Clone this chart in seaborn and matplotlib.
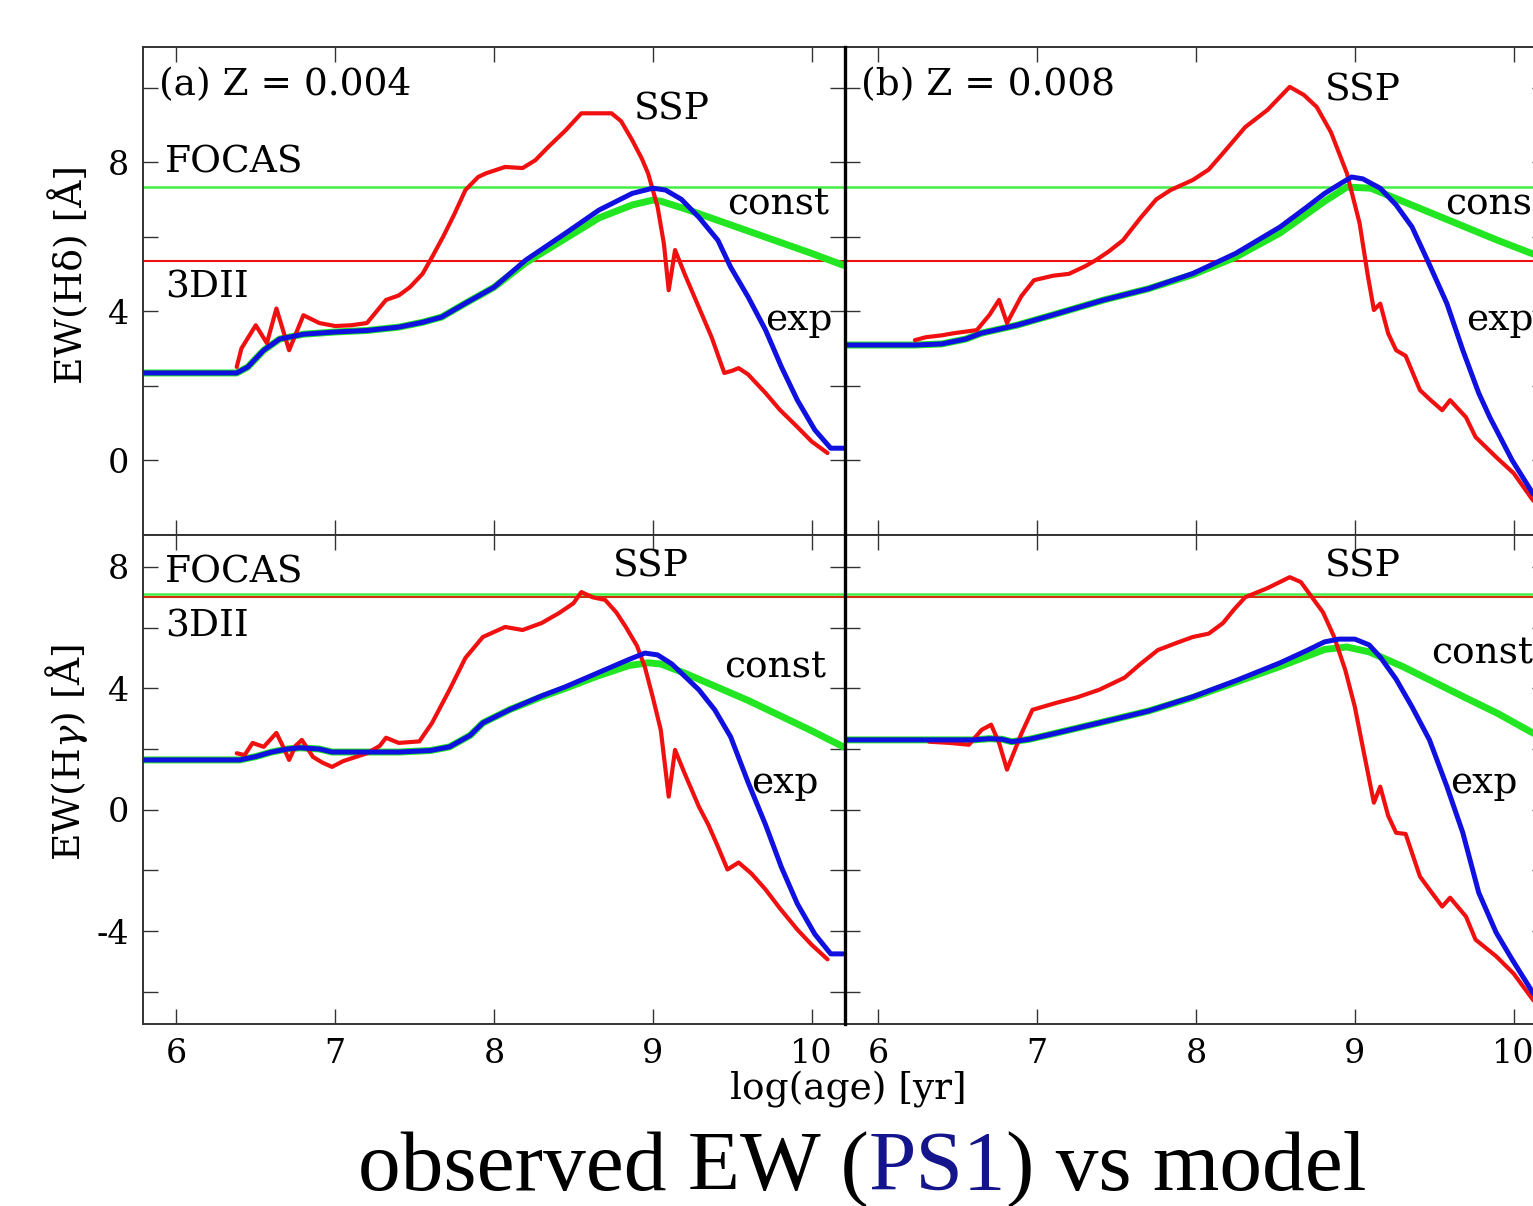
import numpy as np
import pandas as pd
import matplotlib
matplotlib.use("Agg")
import matplotlib.pyplot as plt
import seaborn as sns

# ---- data ----
# (a) Z = 0.004, EW(Hdelta)
a_hd_exp_x = [5.8, 6.38, 6.45, 6.55, 6.65, 6.8, 7.0, 7.2, 7.4, 7.55, 7.67, 7.82, 8.0, 8.2, 8.45, 8.66, 8.87, 9.0, 9.08, 9.18,
              9.29, 9.41, 9.49, 9.6, 9.71, 9.81, 9.91, 10.02, 10.12, 10.2]
a_hd_exp_y = [2.34, 2.34, 2.5, 2.95, 3.25, 3.38, 3.44, 3.48, 3.57, 3.7, 3.84, 4.21, 4.64, 5.37, 6.09, 6.71, 7.16, 7.3, 7.25, 7.0,
              6.52, 5.9, 5.18, 4.38, 3.49, 2.5, 1.61, 0.81, 0.32, 0.32]
a_hd_const_x = [5.8, 6.38, 6.45, 6.55, 6.65, 6.8, 7.0, 7.2, 7.4, 7.55, 7.67, 7.82, 8.0, 8.2, 8.45, 8.66, 8.87, 9.0, 9.05, 9.2,
                9.4, 9.6, 9.8, 10.0, 10.2]
a_hd_const_y = [2.34, 2.34, 2.5, 2.95, 3.25, 3.38, 3.44, 3.48, 3.57, 3.7, 3.84, 4.21, 4.64, 5.3, 5.95, 6.5, 6.85, 6.98, 6.95, 6.75,
                6.45, 6.15, 5.85, 5.55, 5.23]
a_hd_ssp_x = [6.38, 6.41, 6.5, 6.57, 6.63, 6.71, 6.8, 6.9, 7.0, 7.1, 7.2, 7.32, 7.4, 7.47, 7.55, 7.61, 7.68, 7.75, 7.82, 7.9,
              7.95, 8.07, 8.18, 8.26, 8.34, 8.45, 8.55, 8.62, 8.74, 8.8, 8.87, 8.93, 8.97, 9.03, 9.07, 9.1, 9.14, 9.2,
              9.29, 9.37, 9.45, 9.5, 9.54, 9.6, 9.71, 9.8, 9.91, 10.0, 10.1]
a_hd_ssp_y = [2.5, 3.0, 3.62, 3.14, 4.07, 2.95, 3.89, 3.68, 3.6, 3.62, 3.68, 4.3, 4.42, 4.64, 5.0, 5.45, 6.0, 6.6, 7.25, 7.6,
              7.7, 7.87, 7.84, 8.05, 8.4, 8.85, 9.31, 9.31, 9.31, 9.1, 8.59, 8.1, 7.7, 6.8, 5.8, 4.56, 5.64, 5.0,
              4.1, 3.3, 2.34, 2.4, 2.47, 2.3, 1.8, 1.35, 0.89, 0.5, 0.19]

# (a) Z = 0.004, EW(Hgamma)
a_hg_exp_x = [5.8, 6.4, 6.5, 6.6, 6.7, 6.78, 6.9, 6.98, 7.2, 7.4, 7.6, 7.72, 7.85, 7.93, 8.1, 8.3, 8.45, 8.65, 8.85, 8.95,
              9.03, 9.12, 9.2, 9.29, 9.39, 9.49, 9.6, 9.71, 9.81, 9.91, 10.02, 10.12, 10.2]
a_hg_exp_y = [1.64, 1.64, 1.75, 1.9, 2.0, 2.04, 2.0, 1.9, 1.9, 1.9, 1.95, 2.07, 2.45, 2.86, 3.3, 3.75, 4.05, 4.5, 4.95, 5.16,
              5.1, 4.8, 4.4, 3.95, 3.29, 2.4, 0.9, -0.5, -1.9, -3.1, -4.1, -4.75, -4.75]
a_hg_const_x = [5.8, 6.4, 6.5, 6.6, 6.7, 6.78, 6.9, 6.98, 7.2, 7.4, 7.6, 7.72, 7.85, 7.93, 8.1, 8.3, 8.45, 8.65, 8.85, 8.97,
                9.05, 9.2, 9.4, 9.6, 9.8, 10.0, 10.2]
a_hg_const_y = [1.64, 1.64, 1.75, 1.9, 2.0, 2.04, 2.0, 1.9, 1.9, 1.9, 1.95, 2.07, 2.45, 2.86, 3.3, 3.72, 4.0, 4.4, 4.75, 4.84,
                4.8, 4.5, 4.05, 3.6, 3.1, 2.6, 2.07]
a_hg_ssp_x = [6.38, 6.43, 6.48, 6.55, 6.63, 6.67, 6.71, 6.75, 6.79, 6.86, 6.92, 6.98, 7.05, 7.2, 7.28, 7.32, 7.4, 7.53, 7.61,
              7.72, 7.82, 7.93, 8.07, 8.18, 8.3, 8.41, 8.5, 8.55, 8.62, 8.7, 8.77, 8.83, 8.9, 8.95, 9.0, 9.05, 9.1,
              9.14, 9.2, 9.29, 9.35, 9.41, 9.47, 9.54, 9.62, 9.71, 9.8, 9.91, 10.0, 10.1]
a_hg_ssp_y = [1.86, 1.8, 2.2, 2.07, 2.53, 2.1, 1.64, 2.1, 2.3, 1.74, 1.55, 1.41, 1.6, 1.86, 2.1, 2.37, 2.2, 2.25, 2.86,
              3.95, 5.0, 5.69, 6.02, 5.92, 6.15, 6.48, 6.8, 7.17, 7.0, 6.91, 6.5, 6.02, 5.4, 4.7, 3.7, 2.63, 0.43,
              1.97, 1.2, 0.1, -0.5, -1.22, -1.97, -1.74, -2.1, -2.63, -3.25, -3.95, -4.45, -4.93]

# (b) Z = 0.008, EW(Hdelta)
b_hd_exp_x = [5.8, 6.23, 6.4, 6.55, 6.65, 6.87, 7.1, 7.42, 7.7, 7.98, 8.25, 8.53, 8.7, 8.81, 8.92, 8.98, 9.05, 9.16, 9.26,
              9.36, 9.46, 9.58, 9.68, 9.78, 9.85, 9.99, 10.12, 10.2]
b_hd_exp_y = [3.09, 3.09, 3.12, 3.25, 3.41, 3.62, 3.9, 4.3, 4.6, 5.01, 5.55, 6.26, 6.8, 7.16, 7.45, 7.6, 7.55, 7.3, 6.85,
              6.26, 5.34, 4.2, 2.95, 1.8, 1.15, 0.0, -0.89, -1.2]
b_hd_const_x = [5.8, 6.23, 6.4, 6.55, 6.65, 6.87, 7.1, 7.42, 7.7, 7.98, 8.25, 8.53, 8.81, 8.95, 9.1, 9.3, 9.5, 9.7, 9.9,
                10.1, 10.2]
b_hd_const_y = [3.09, 3.09, 3.12, 3.25, 3.41, 3.62, 3.9, 4.3, 4.6, 4.98, 5.45, 6.1, 6.95, 7.33, 7.3, 6.95, 6.6, 6.25, 5.9,
                5.57, 5.42]
b_hd_ssp_x = [6.23, 6.3, 6.4, 6.48, 6.55, 6.62, 6.7, 6.76, 6.81, 6.9, 6.98, 7.1, 7.2, 7.3, 7.37, 7.45, 7.54, 7.65, 7.75,
              7.84, 7.98, 8.08, 8.17, 8.31, 8.45, 8.59, 8.68, 8.76, 8.85, 8.95, 9.03, 9.08, 9.12, 9.16, 9.21, 9.26,
              9.32, 9.41, 9.48, 9.55, 9.6, 9.7, 9.76, 9.89, 10.0, 10.12, 10.2]
b_hd_ssp_y = [3.22, 3.3, 3.35, 3.41, 3.45, 3.49, 3.9, 4.3, 3.68, 4.4, 4.83, 4.95, 5.0, 5.2, 5.37, 5.6, 5.9, 6.5, 7.0,
              7.25, 7.52, 7.8, 8.24, 8.94, 9.4, 10.02, 9.8, 9.48, 8.8, 7.7, 6.36, 5.0, 4.03, 4.2, 3.4, 2.95,
              2.8, 1.88, 1.6, 1.34, 1.61, 1.15, 0.62, 0.08, -0.35, -1.07, -1.35]

# (b) Z = 0.008, EW(Hgamma)
b_hg_exp_x = [5.8, 6.6, 6.7, 6.78, 6.84, 6.95, 7.1, 7.39, 7.7, 7.98, 8.25, 8.53, 8.7, 8.81, 8.9, 9.0, 9.09, 9.16, 9.26,
              9.36, 9.47, 9.58, 9.68, 9.78, 9.89, 9.99, 10.12, 10.2]
b_hg_exp_y = [2.3, 2.3, 2.34, 2.32, 2.24, 2.32, 2.5, 2.86, 3.25, 3.72, 4.25, 4.84, 5.25, 5.53, 5.62, 5.62, 5.43, 5.03, 4.3,
              3.39, 2.3, 0.76, -0.76, -2.73, -4.05, -4.93, -6.02, -6.5]
b_hg_const_x = [5.8, 6.6, 6.7, 6.78, 6.84, 6.95, 7.1, 7.39, 7.7, 7.98, 8.25, 8.53, 8.81, 8.95, 9.09, 9.3, 9.5, 9.7, 9.9,
                10.12, 10.2]
b_hg_const_y = [2.3, 2.3, 2.34, 2.32, 2.24, 2.32, 2.5, 2.86, 3.25, 3.7, 4.2, 4.72, 5.28, 5.36, 5.2, 4.72, 4.2, 3.68, 3.17,
                2.53, 2.35]
b_hg_ssp_x = [6.32, 6.45, 6.57, 6.65, 6.71, 6.76, 6.81, 6.9, 6.97, 7.12, 7.25, 7.39, 7.55, 7.65, 7.76, 7.88, 7.98, 8.08,
              8.17, 8.24, 8.31, 8.45, 8.59, 8.66, 8.73, 8.8, 8.87, 8.94, 9.0, 9.06, 9.12, 9.16, 9.21, 9.26, 9.32,
              9.41, 9.48, 9.55, 9.6, 9.7, 9.76, 9.89, 10.0, 10.12, 10.2]
b_hg_ssp_y = [2.24, 2.2, 2.14, 2.63, 2.8, 2.2, 1.32, 2.5, 3.29, 3.52, 3.7, 3.95, 4.35, 4.8, 5.26, 5.5, 5.69, 5.8,
              6.15, 6.6, 7.0, 7.3, 7.66, 7.5, 7.0, 6.5, 5.69, 4.6, 3.39, 1.8, 0.23, 0.76, -0.2, -0.76, -0.8,
              -2.2, -2.7, -3.19, -2.9, -3.52, -4.28, -4.83, -5.4, -6.25, -6.7]

# observed values (horizontal lines)
focas_hd, dii_hd = 7.33, 5.34
focas_hg, dii_hg = 7.1, 7.0

panel_titles = ["(a) Z = 0.004", "(b) Z = 0.008"]
row_labels = ["EW(H\u03b4) [\u00c5]", "EW(H$\\gamma$) [\u00c5]"]

# ---- style ----
sns.set_style("ticks")
plt.rcParams["font.family"] = ["DejaVu Serif"]
plt.rcParams["mathtext.fontset"] = "dejavuserif"
plt.rcParams["axes.unicode_minus"] = False
plt.rcParams["text.color"] = "black"
plt.rcParams["xtick.labelcolor"] = "black"
plt.rcParams["ytick.labelcolor"] = "black"
plt.rcParams["axes.labelcolor"] = "black"

RED = "#f01010"
BLUE = "#1010e0"
GREEN = "#22e622"
HGREEN = "#44ee44"
FRAME = "#333333"
FS_TICK = 24
FS_TXT = 27

W, H = 1533, 1206
fig = plt.figure(figsize=(W / 100, H / 100), dpi=100)

left0 = 143 / W
left1 = 845 / W
pw = 702 / W
top_b = 1 - 535 / H
top_h = (535 - 47) / H
bot_b = 1 - 1024 / H
bot_h = (1024 - 535) / H

axes = {
    ("a", "hd"): fig.add_axes([left0, top_b, pw, top_h]),
    ("b", "hd"): fig.add_axes([left1, top_b, pw, top_h]),
    ("a", "hg"): fig.add_axes([left0, bot_b, pw, bot_h]),
    ("b", "hg"): fig.add_axes([left1, bot_b, pw, bot_h]),
}

series = {
    ("a", "hd"): (a_hd_const_x, a_hd_const_y, a_hd_ssp_x, a_hd_ssp_y, a_hd_exp_x, a_hd_exp_y),
    ("b", "hd"): (b_hd_const_x, b_hd_const_y, b_hd_ssp_x, b_hd_ssp_y, b_hd_exp_x, b_hd_exp_y),
    ("a", "hg"): (a_hg_const_x, a_hg_const_y, a_hg_ssp_x, a_hg_ssp_y, a_hg_exp_x, a_hg_exp_y),
    ("b", "hg"): (b_hg_const_x, b_hg_const_y, b_hg_ssp_x, b_hg_ssp_y, b_hg_exp_x, b_hg_exp_y),
}

# text labels: (text, x, y) in data coords
labels = {
    ("a", "hd"): [("SSP", 8.88, 9.4), ("const", 9.47, 6.85), ("exp", 9.71, 3.76),
                  ("FOCAS", 5.93, 8.0), ("3DII", 5.93, 4.64)],
    ("b", "hd"): [("SSP", 8.81, 9.93), ("const", 9.57, 6.85), ("exp", 9.70, 3.76)],
    ("a", "hg"): [("SSP", 8.75, 8.0), ("const", 9.45, 4.67), ("exp", 9.62, 0.89),
                  ("FOCAS", 5.93, 7.83), ("3DII", 5.93, 6.02)],
    ("b", "hg"): [("SSP", 8.81, 8.0), ("const", 9.48, 5.16), ("exp", 9.6, 0.89)],
}

for (col, row), ax in axes.items():
    cx, cy, sx, sy, ex, ey = series[(col, row)]
    if row == "hd":
        ax.axhline(focas_hd, color=HGREEN, lw=1.8, zorder=1)
        ax.axhline(dii_hd, color=RED, lw=1.5, zorder=1)
    else:
        ax.axhline(focas_hg, color=HGREEN, lw=1.8, zorder=1)
        ax.axhline(dii_hg, color="#d03010", lw=1.5, zorder=1)
    sns.lineplot(x=cx, y=cy, ax=ax, color=GREEN, lw=5.0, sort=False, estimator=None, zorder=2,
                 solid_joinstyle="round")
    sns.lineplot(x=sx, y=sy, ax=ax, color=RED, lw=3.0, sort=False, estimator=None, zorder=3,
                 solid_joinstyle="round")
    sns.lineplot(x=ex, y=ey, ax=ax, color=BLUE, lw=3.6, sort=False, estimator=None, zorder=4,
                 solid_joinstyle="round")

    ax.set_xlim(5.79, 10.21)
    if row == "hd":
        ax.set_ylim(-2.01, 11.09)
        ax.set_yticks([0, 4, 8])
        ax.set_yticks([-2, 2, 6, 10], minor=True)
    else:
        ax.set_ylim(-7.06, 9.05)
        ax.set_yticks([-4, 0, 4, 8])
        ax.set_yticks([-6, -2, 2, 6], minor=True)
    ax.set_xticks([6, 7, 8, 9, 10])
    ax.tick_params(which="both", direction="in", top=True, right=True, length=11, width=1.0,
                   color=FRAME, labelsize=FS_TICK, pad=10)
    ax.tick_params(which="minor", length=11)
    for sp in ax.spines.values():
        sp.set_color(FRAME)
        sp.set_linewidth(1.4)
    ax.set_xlabel("")
    ax.set_ylabel("")

    if row == "hd":
        ax.tick_params(labelbottom=False)
        ax.text(5.89, 10.07, panel_titles[0 if col == "a" else 1], fontsize=FS_TXT,
                ha="left", va="center")
    if col == "b":
        ax.tick_params(labelleft=False)
        ax.spines["left"].set_color("black")
        ax.spines["left"].set_linewidth(2.4)
        ax.spines["left"].set_zorder(6)
    else:
        ax.set_ylabel(row_labels[0 if row == "hd" else 1], fontsize=FS_TXT)
        ax.yaxis.set_label_coords(-0.075, 0.533 if row == "hd" else 0.556)
    for txt, tx, ty in labels[(col, row)]:
        ax.text(tx, ty, txt, fontsize=FS_TXT, ha="left", va="center", zorder=5)

fig.text(848 / W, 1 - 1090 / H, "log(age) [yr]", fontsize=FS_TXT, ha="center", va="center")

# caption with coloured "PS1"
renderer = fig.canvas.get_renderer()
cap_kw = dict(fontsize=61.5, family=["Liberation Serif"], va="baseline")
y_cap = 1 - 1190 / H
parts = [("observed EW (", "black"), ("PS1", "#14148c"), (") vs model", "black")]
x_px = 358
for txt, c in parts:
    t = fig.text(x_px / W, y_cap, txt, color=c, ha="left", **cap_kw)
    bb = t.get_window_extent(renderer)
    x_px = bb.x1

fig.savefig("out.png", dpi=100)
